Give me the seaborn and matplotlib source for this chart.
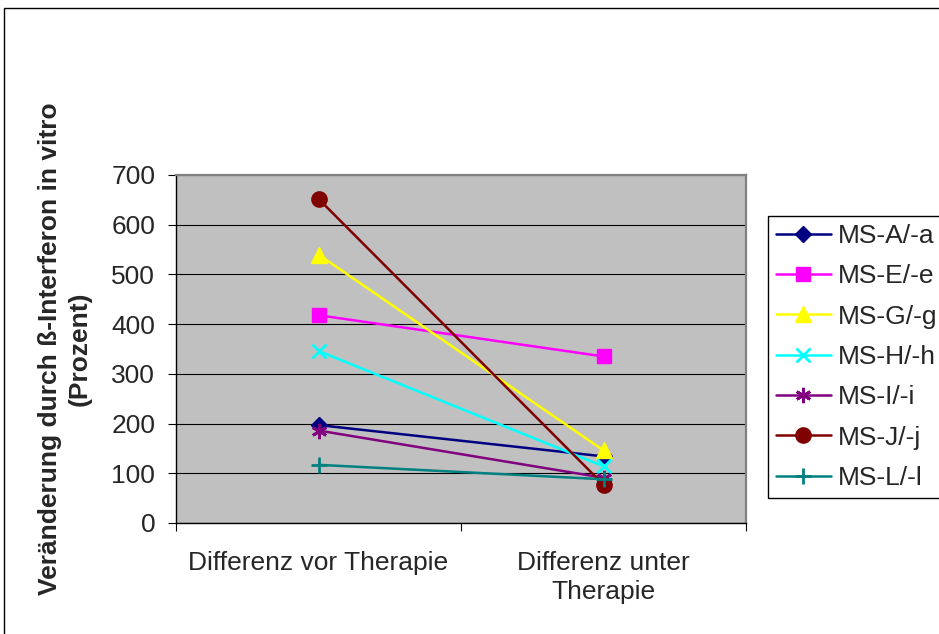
import matplotlib
matplotlib.use("Agg")
import matplotlib.pyplot as plt
from matplotlib.patches import Rectangle
from matplotlib.ticker import FixedLocator
import pandas as pd
import seaborn as sns

# Messzeitpunkte (Kategorien der x-Achse)
zeitpunkte = ["Differenz vor Therapie", "Differenz unter\nTherapie"]

# Veränderung durch ß-Interferon in vitro (Prozent) je Patient
ms_a = [197, 134]
ms_e = [418, 335]
ms_g = [540, 146]
ms_h = [346, 114]
ms_i = [186, 91]
ms_l = [117, 88]
ms_j = [652, 77]

patienten = ["MS-A/-a", "MS-E/-e", "MS-G/-g", "MS-H/-h", "MS-I/-i", "MS-J/-j", "MS-L/-l"]
werte = [ms_a, ms_e, ms_g, ms_h, ms_i, ms_j, ms_l]

y_ticks = [0, 100, 200, 300, 400, 500, 600, 700]

farben = {
    "MS-A/-a": "#000080",
    "MS-E/-e": "#FF00FF",
    "MS-G/-g": "#FFFF00",
    "MS-H/-h": "#00FFFF",
    "MS-I/-i": "#800080",
    "MS-J/-j": "#800000",
    "MS-L/-l": "#008080",
}
marker = {
    "MS-A/-a": ("D", 8, 1.0),
    "MS-E/-e": ("s", 10.5, 1.0),
    "MS-G/-g": ("^", 11, 1.0),
    "MS-H/-h": ("x", 10, 2.0),
    "MS-I/-i": ((6, 2, 0), 11, 2.0),
    "MS-J/-j": ("o", 11, 1.0),
    "MS-L/-l": ("+", 12, 2.0),
}

sns.set_style("white")
plt.rcParams["font.family"] = ["Liberation Sans", "DejaVu Sans"]
plt.rcParams["font.size"] = 19

df = pd.DataFrame(
    {
        "patient": [p for p in patienten for _ in zeitpunkte],
        "pos": [i for _ in patienten for i in range(len(zeitpunkte))],
        "wert": [v for w in werte for v in w],
    }
)

fig = plt.figure(figsize=(9.39, 6.34), dpi=100)
fig.patch.set_facecolor("white")
ax = fig.add_axes([176 / 939, 1 - 523 / 634, 570 / 939, 348 / 634])
ax.set_facecolor("#C0C0C0")

for p in patienten:
    m, ms, mew = marker[p]
    sub = df[df["patient"] == p]
    sns.lineplot(
        data=sub, x="pos", y="wert", ax=ax, sort=False, label=p,
        color=farben[p], marker=m, markersize=ms, markeredgewidth=mew,
        markeredgecolor=farben[p], markerfacecolor=farben[p],
        linewidth=1.8, zorder=3,
    )

ax.set_xlim(-0.5, 1.5)
ax.set_ylim(0, 700)
ax.yaxis.set_major_locator(FixedLocator(y_ticks))
ax.set_yticklabels([str(t) for t in y_ticks])
ax.set_xticks(range(len(zeitpunkte)))
ax.set_xticklabels(zeitpunkte, linespacing=1.3)
ax.xaxis.set_minor_locator(FixedLocator([-0.5, 0.5, 1.5]))

ax.grid(axis="y", color="#000000", linewidth=0.8, zorder=1)
ax.grid(axis="x", visible=False)
ax.set_axisbelow(True)

ax.tick_params(axis="y", which="major", direction="out", length=6, width=0.8,
               color="black", pad=9, labelsize=19, left=True)
ax.tick_params(axis="x", which="major", length=0, pad=20, labelsize=19)
ax.tick_params(axis="x", which="minor", direction="out", length=6, width=0.8,
               color="black", bottom=True)

for side in ("top", "right"):
    ax.spines[side].set_color("#808080")
    ax.spines[side].set_linewidth(1.6)
for side in ("left", "bottom"):
    ax.spines[side].set_color("black")
    ax.spines[side].set_linewidth(1.0)

ax.set_xlabel("")
ax.set_ylabel("Veränderung durch ß-Interferon in vitro\n(Prozent)",
              fontsize=19, fontweight="bold", linespacing=1.3)
ax.yaxis.set_label_coords(-0.148, 0.5)

handles, labels = ax.get_legend_handles_labels()
leg = ax.legend(
    handles, labels, loc="upper left",
    bbox_to_anchor=(768 / 939, 1 - 216 / 634), bbox_transform=fig.transFigure,
    borderaxespad=0, borderpad=0.3, labelspacing=0.62, handlelength=2.08,
    handletextpad=0.25, fontsize=19, frameon=True, fancybox=False,
    shadow=False, framealpha=1,
)
leg.get_frame().set_edgecolor("black")
leg.get_frame().set_linewidth(1.0)

# Rahmen um die Diagrammfläche
fig.add_artist(Rectangle((4 / 939, -0.1), 1.2, 0.1 + 1 - 8 / 634,
                         transform=fig.transFigure, fill=False,
                         edgecolor="black", linewidth=1.0))

fig.savefig("out.png", dpi=100, facecolor="white")
